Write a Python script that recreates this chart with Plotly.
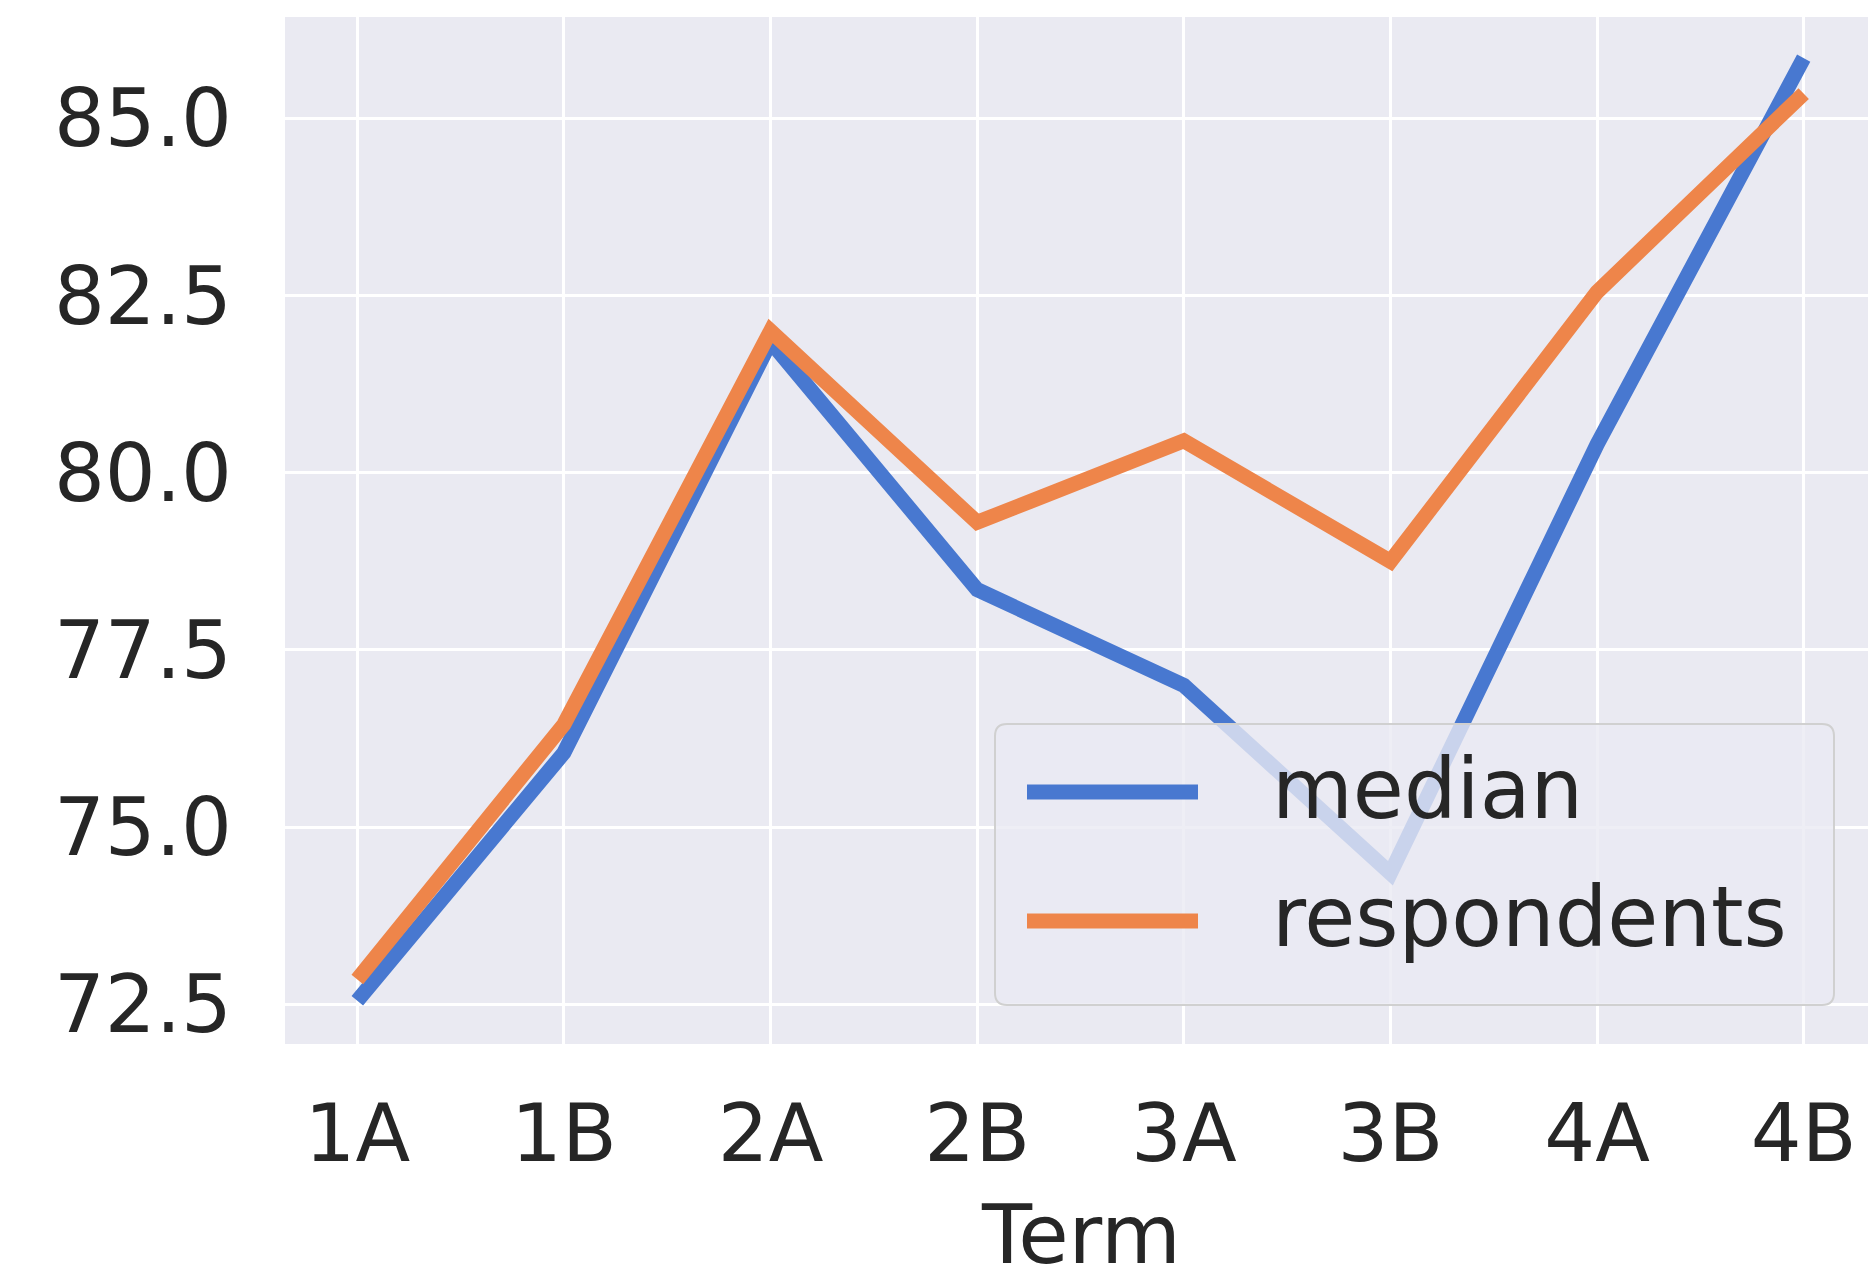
import plotly.graph_objects as go

#######################################
# DATA ################################
#######################################

terms = ["1A", "1B", "2A", "2B", "3A", "3B", "4A", "4B"]
median = [72.55, 76.05, 81.85, 78.35, 77.0, 74.35, 80.4, 85.85]
respondents = [72.85, 76.45, 82.0, 79.3, 80.45, 78.75, 82.55, 85.35]
y_ticks = [72.5, 75.0, 77.5, 80.0, 82.5, 85.0]

BLUE = "#4878d0"
ORANGE = "#ee854a"
TEXT = "#262626"
FONT = "DejaVu Sans"

#######################################
# FIGURE ##############################
#######################################

# the page body has an 8px margin, so the figure is drawn 8px smaller
OFF = 8
W, H = 1876 - OFF, 1275 - OFF
M = dict(l=285 - OFF, r=0, t=17 - OFF, b=231)

fig = go.Figure()
fig.add_trace(go.Scatter(x=terms, y=median, mode="lines", name="median",
                         line=dict(color=BLUE, width=15), showlegend=False))
fig.add_trace(go.Scatter(x=terms, y=respondents, mode="lines", name="respondents",
                         line=dict(color=ORANGE, width=15), showlegend=False))

fig.update_layout(
    width=W, height=H,
    margin=M,
    paper_bgcolor="white",
    plot_bgcolor="#eaeaf2",
    font=dict(family=FONT, size=80, color=TEXT),
    showlegend=False,
)
fig.update_xaxes(
    type="category", range=[-0.35, 7.35],
    showgrid=True, gridcolor="white", gridwidth=3,
    zeroline=False, showline=False, ticks="",
    ticklabelstandoff=36, automargin=False,
)
fig.update_yaxes(
    range=[71.94, 86.43],
    tickvals=y_ticks, ticktext=[f"{v:.1f}" for v in y_ticks],
    showgrid=True, gridcolor="white", gridwidth=3,
    zeroline=False, showline=False, ticks="",
    ticklabelstandoff=52, automargin=False,
)

#######################################
# LEGEND + AXIS TITLE (placed by hand)
#######################################

pw = W - M["l"] - M["r"]
ph = H - M["t"] - M["b"]


# positions below are page pixels of the reference
def px_x(px):
    return (px - OFF - M["l"]) / pw


def px_y(py):
    return (H - M["b"] - (py - OFF)) / ph


fig.add_annotation(text="Term", xref="paper", yref="paper", x=0.5, y=px_y(1234),
                   xanchor="center", yanchor="middle", showarrow=False,
                   font=dict(family=FONT, size=82, color=TEXT))

bx0, bx1, by0, by1 = px_x(995), px_x(1834), px_y(1005), px_y(724)
rx, ry = 12 / pw, 12 / ph
box = (f"M {bx0 + rx},{by0} L {bx1 - rx},{by0} Q {bx1},{by0} {bx1},{by0 + ry} "
       f"L {bx1},{by1 - ry} Q {bx1},{by1} {bx1 - rx},{by1} "
       f"L {bx0 + rx},{by1} Q {bx0},{by1} {bx0},{by1 - ry} "
       f"L {bx0},{by0 + ry} Q {bx0},{by0} {bx0 + rx},{by0} Z")
fig.add_shape(type="path", path=box, xref="paper", yref="paper", layer="above",
              fillcolor="rgba(234,234,242,0.8)", line=dict(color="#d0d0d0", width=2))

for name, color, py in [("median", BLUE, 792), ("respondents", ORANGE, 921)]:
    fig.add_shape(type="line", xref="paper", yref="paper", layer="above",
                  x0=px_x(1027), x1=px_x(1198), y0=px_y(py), y1=px_y(py),
                  line=dict(color=color, width=15))
    fig.add_annotation(text=name, xref="paper", yref="paper",
                       x=px_x(1270), y=px_y(py - 3), xanchor="left", yanchor="middle",
                       showarrow=False, font=dict(family=FONT, size=83, color=TEXT))

fig.write_html("out.html")
